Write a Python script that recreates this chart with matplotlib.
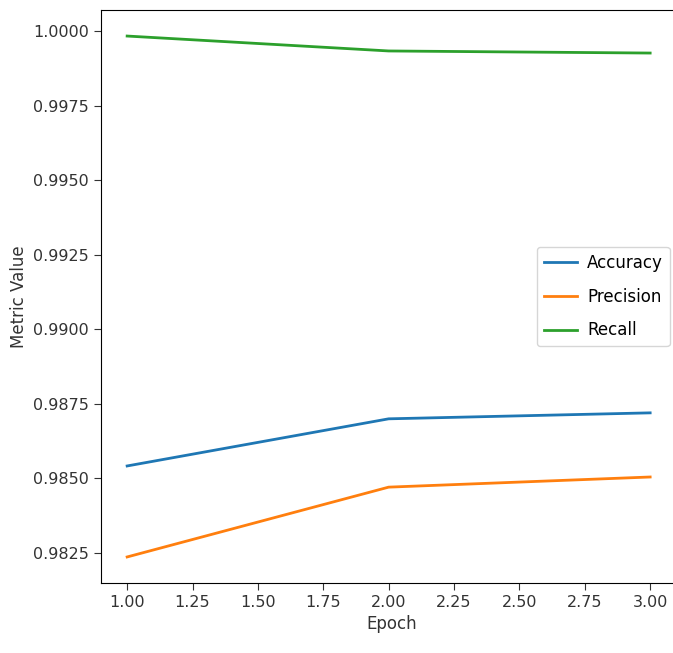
import matplotlib
matplotlib.use('Agg')
import matplotlib.pyplot as plt

epochs = [1, 2, 3]
accuracy = [0.98542, 0.98700, 0.98720]
precision = [0.98237, 0.98471, 0.98505]
recall = [0.99983, 0.99933, 0.99926]

fig = plt.figure(figsize=(6.73, 6.53), dpi=100)
# axes run a little past the right edge, like the cropped original
ax = fig.add_axes([101 / 673, 70 / 653, 582 / 673, 573 / 653])

ax.plot(epochs, accuracy, label="Accuracy", lw=2)
ax.plot(epochs, precision, label="Precision", lw=2)
ax.plot(epochs, recall, label="Recall", lw=2)

ax.spines["right"].set_visible(False)
ax.set_xlim(0.9, 0.9 + 582 / 261.5)
ax.set_xticks([1.0, 1.25, 1.5, 1.75, 2.0, 2.25, 2.5, 2.75, 3.0])
ax.set_yticks([0.9825, 0.985, 0.9875, 0.99, 0.9925, 0.995, 0.9975, 1.0])
ax.tick_params(labelsize=11.5, colors="#333333", length=5)
ax.set_xlabel("Epoch", fontsize=12, color="#333333")
ax.set_ylabel("Metric Value", fontsize=12, color="#333333")
ax.legend(loc="center left", bbox_to_anchor=(436 / 582, 0.5), fontsize=12,
          labelspacing=0.95, handletextpad=0.6, borderaxespad=0)

plt.savefig("out.png", dpi=100, bbox_inches=None)
